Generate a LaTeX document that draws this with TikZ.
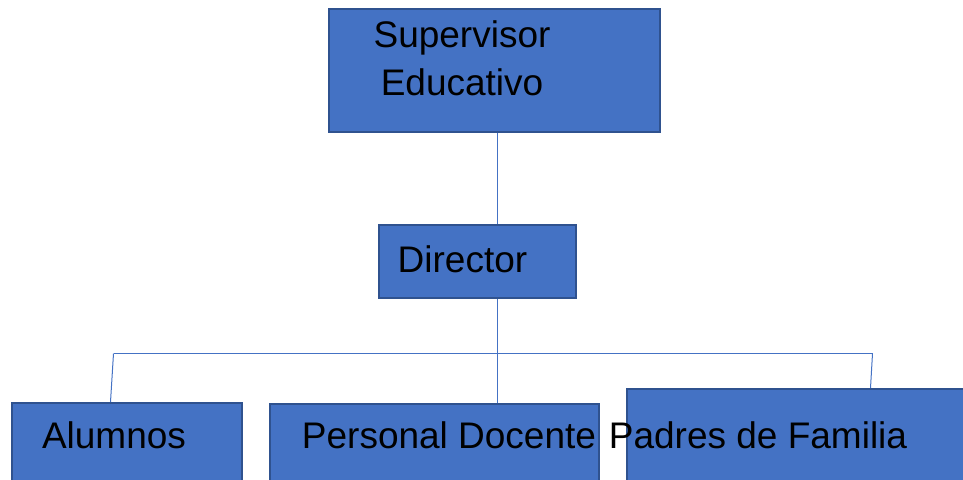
\documentclass[tikz,border=0pt]{standalone}
\usepackage{fontspec}
\setmainfont{Liberation Sans}
\definecolor{boxfill}{HTML}{4472C4}
\definecolor{boxline}{HTML}{2F528F}
\definecolor{conn}{HTML}{4472C4}
\begin{document}
\begin{tikzpicture}[x=1pt,y=-1pt,
  box/.style={draw=boxline, fill=boxfill, line width=1.6pt, rectangle, anchor=north west, inner sep=0pt},
  txt/.style={font=\fontsize{37}{48}\selectfont, text=black, inner sep=0pt, align=center},
  conline/.style={draw=conn, line width=1pt}]
\useasboundingbox (0,0) rectangle (963,479);
\clip (0,0) rectangle (963,479);
% boxes
\node[box, minimum width=331pt, minimum height=123pt] (sup) at (328,8) {};
\node[box, minimum width=197pt, minimum height=73pt] (dir) at (378,224) {};
\node[box, minimum width=230pt, minimum height=100pt] (alu) at (11,402) {};
\node[box, minimum width=329pt, minimum height=100pt] (doc) at (269,403) {};
\node[box, minimum width=360pt, minimum height=120pt] (pad) at (626,388) {};
% connectors
\coordinate (hl) at (113.5,353.5);
\coordinate (hr) at (872.5,353.5);
\coordinate (hm) at (497.5,353.5);
\draw[conline] (sup.south -| hm) -- (dir.north -| hm);
\draw[conline] (dir.south -| hm) -- (doc.north -| hm);
\draw[conline] (hl) -- (hr);
\draw[conline] (hl) -- (110.5,402);
\draw[conline] (hr) -- (870.5,388);
% texts
\node[txt, anchor=center] (supt) at (462,58) {Supervisor\\Educativo};
\node[txt, anchor=base] (dirt) at (462.5,272) {Director};
\node[txt, anchor=base] (alut) at (114,448) {Alumnos};
\node[txt, anchor=base] (doct) at (449,448) {Personal Docente};
\node[txt, anchor=base] (padt) at (758,448) {Padres de Familia};
\end{tikzpicture}
\end{document}
